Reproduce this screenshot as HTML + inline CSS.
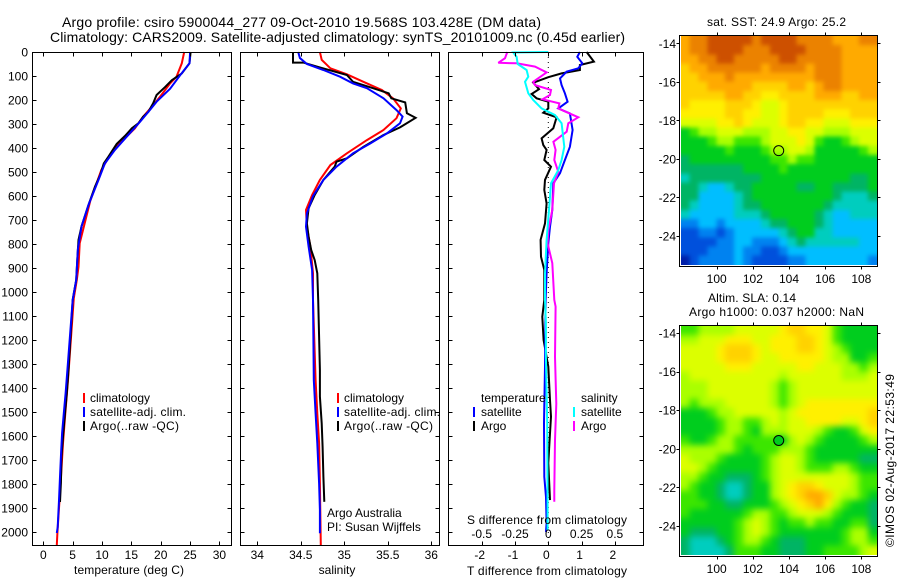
<!DOCTYPE html>
<html lang="en">
<head>
<meta charset="utf-8">
<title>Argo profile</title>
<style>
html,body{margin:0;padding:0;background:#fff;width:900px;height:580px;overflow:hidden}
svg{display:block}
text{font-family:"Liberation Sans",sans-serif;font-size:12px;fill:#000}
.t{font-size:14px}
</style>
</head>
<body>
<svg id="fig" xmlns="http://www.w3.org/2000/svg" width="900" height="580" viewBox="0 0 900 580">
<defs>
<filter id="smooth-sst" filterUnits="userSpaceOnUse" x="640" y="0" width="260" height="300" color-interpolation-filters="sRGB"><feGaussianBlur stdDeviation="2.2"/></filter>
<filter id="smooth-sla" filterUnits="userSpaceOnUse" x="640" y="290" width="260" height="290" color-interpolation-filters="sRGB"><feGaussianBlur stdDeviation="3.2"/></filter>
<clipPath id="clip-sst"><rect x="681" y="36" width="196" height="229"/></clipPath>
<clipPath id="clip-sla"><rect x="681" y="326" width="196" height="229"/></clipPath>
</defs>
<rect x="0" y="0" width="900" height="580" fill="#fff"/>
<text class="t" x="62" y="27" textLength="479" lengthAdjust="spacing">Argo profile: csiro 5900044_277 09-Oct-2010 19.568S 103.428E (DM data)</text>
<text class="t" x="50" y="42" textLength="575" lengthAdjust="spacing">Climatology: CARS2009. Satellite-adjusted climatology: synTS_20101009.nc (0.45d earlier)</text>
<g id="marks"></g>
<rect x="32.5" y="52.5" width="199" height="493" fill="none" stroke="#000"/>
<rect x="240.5" y="52.5" width="199" height="493" fill="none" stroke="#000"/>
<rect x="448.5" y="52.5" width="195" height="493" fill="none" stroke="#000"/>
<rect x="679.5" y="35.5" width="198" height="231" fill="none" stroke="#000"/>
<rect x="679.5" y="325.5" width="198" height="231" fill="none" stroke="#000"/>
<text x="74" y="574" textLength="110" lengthAdjust="spacing">temperature (deg C)</text>
<text x="337" y="574" text-anchor="middle">salinity</text>
<text x="467" y="575" textLength="160" lengthAdjust="spacing">T difference from climatology</text>
<text x="467" y="524" textLength="160" lengthAdjust="spacing">S difference from climatology</text>
<line x1="84" x2="84" y1="393" y2="403" stroke="#f00" stroke-width="2"/>
<line x1="84" x2="84" y1="407" y2="417" stroke="#00f" stroke-width="2"/>
<line x1="84" x2="84" y1="421" y2="431" stroke="#000" stroke-width="2"/>
<text x="90" y="402">climatology</text>
<text x="90" y="416" textLength="96" lengthAdjust="spacing">satellite-adj. clim.</text>
<text x="90" y="430" textLength="89" lengthAdjust="spacing">Argo(..raw -QC)</text>
<line x1="338" x2="338" y1="393" y2="403" stroke="#f00" stroke-width="2"/>
<line x1="338" x2="338" y1="407" y2="417" stroke="#00f" stroke-width="2"/>
<line x1="338" x2="338" y1="421" y2="431" stroke="#000" stroke-width="2"/>
<text x="344" y="402">climatology</text>
<text x="344" y="416" textLength="96" lengthAdjust="spacing">satellite-adj. clim.</text>
<text x="344" y="430" textLength="89" lengthAdjust="spacing">Argo(..raw -QC)</text>
<text x="327" y="517">Argo Australia</text>
<text x="327" y="531">PI: Susan Wijffels</text>
<text x="481" y="402">temperature</text>
<text x="581" y="402">salinity</text>
<line x1="474" x2="474" y1="407" y2="417" stroke="#00f" stroke-width="2"/>
<line x1="474" x2="474" y1="421" y2="431" stroke="#000" stroke-width="2"/>
<text x="481" y="416">satellite</text>
<text x="481" y="430">Argo</text>
<line x1="574" x2="574" y1="407" y2="417" stroke="#0ff" stroke-width="2"/>
<line x1="574" x2="574" y1="421" y2="431" stroke="#f0f" stroke-width="2"/>
<text x="581" y="416">satellite</text>
<text x="581" y="430">Argo</text>
<text x="707" y="26" textLength="139" lengthAdjust="spacing">sat. SST: 24.9  Argo: 25.2</text>
<text x="708" y="302" textLength="88" lengthAdjust="spacing">Altim. SLA: 0.14</text>
<text x="689" y="316" textLength="175" lengthAdjust="spacing">Argo h1000: 0.037 h2000: NaN</text>
<text transform="translate(894,547) rotate(-90)" textLength="173" lengthAdjust="spacing">©IMOS 02-Aug-2017 22:53:49</text>
</svg>
<script>
const depthTicks = [0,100,200,300,400,500,600,700,800,900,1000,1100,1200,1300,1400,1500,1600,1700,1800,1900,2000];
const tempTicks = [0,5,10,15,20,25,30];
const salTicks = [34,34.5,35,35.5,36];
const salTickLabels = ['34','34.5','35','35.5','36'];
const tDiffTicks = [-2,-1,0,1,2];
const sDiffTicks = [-0.5,-0.25,0,0.25,0.5];
const sDiffTickLabels = ['-0.5','-0.25','0','0.25','0.5'];
const lonTicks = [100,102,104,106,108];
const latTicks = [-14,-16,-18,-20,-22,-24];

const argoLon = 103.43;
const argoLat = -19.57;
const slaAtArgoLevel = 6;

const tempClimDepth = [0,47,103,131,186,228,270,318,408,491,620,797,895,950,1026,1367,1506,1630,1797,2004,2054];
const tempClimValue = [24.0,23.6,22.7,21.6,19.9,18.5,17.0,15.6,11.9,9.9,8.0,6.2,6.0,5.7,5.2,4.2,3.75,3.35,2.95,2.4,2.3];
const tempSatDepth = [0,47,97,153,207,241,290,353,408,464,533,637,727,820,950,1033,1325,1422,1506,1588,1660,1770,1868,1980,2004];
const tempSatValue = [25.0,24.9,23.3,21.6,19.3,18.2,16.5,14.2,12.2,10.5,9.4,7.7,6.5,5.9,5.6,5.0,4.1,3.8,3.5,3.2,3.05,2.85,2.67,2.45,2.3];
const tempArgoDepth = [0,47,89,117,147,179,214,249,270,297,318,350,383,436,464,512,561,637,727,783,866,950,1006,1033,1325,1422,1506,1588,1686,1796,1875];
const tempArgoValue = [25.1,24.9,23.6,21.9,20.7,19.3,18.7,17.9,17.0,16.2,15.1,13.9,12.5,11.1,10.3,9.7,8.8,7.7,6.5,6.0,5.8,5.6,5.2,5.0,4.3,4.0,3.7,3.4,3.1,3.0,2.85];

const salClimDepth = [0,33,68,93,124,158,193,235,276,325,367,422,471,533,596,658,728,811,922,1033,1367,1506,1630,1797,2054];
const salClimValue = [34.72,34.74,34.84,35.03,35.22,35.43,35.56,35.65,35.60,35.45,35.26,35.03,34.84,34.72,34.63,34.56,34.57,34.61,34.64,34.64,34.67,34.69,34.71,34.72,34.73];
const salSatDepth = [0,25,50,75,103,131,151,193,242,269,297,339,381,422,478,533,601,672,728,811,908,1033,1367,1506,1630,1797,1908,2005];
const salSatValue = [34.47,34.49,34.57,34.76,34.95,35.10,35.26,35.45,35.60,35.67,35.64,35.49,35.30,35.10,34.91,34.76,34.64,34.57,34.56,34.59,34.63,34.64,34.65,34.67,34.69,34.71,34.72,34.72];
const salArgoDepth = [0,44,44,64,96,124,151,172,193,210,255,274,314,346,395,443,457,478,533,596,651,714,770,825,867,922,1033,1325,1436,1547,1645,1770,1874];
const salArgoValue = [34.41,34.41,34.53,34.72,35.03,35.10,35.33,35.51,35.54,35.70,35.72,35.82,35.64,35.45,35.22,35.03,34.91,34.89,34.76,34.66,34.59,34.57,34.59,34.62,34.66,34.69,34.70,34.72,34.72,34.74,34.75,34.76,34.77];

const dTSatDepth = [0,20,47,68,82,110,138,172,207,235,256,325,395,450,505,547,658,728,797,922,1033,1311,1547,1770,1854,1963,2000];
const dTSatValue = [0.95,0.87,1.02,0.90,0.55,0.35,0.40,0.50,0.58,0.30,0.65,0.73,0.65,0.50,0.35,0.15,0.12,0.05,0,-0.05,-0.08,-0.10,-0.13,-0.12,-0.07,-0.05,-0.07];
const dTArgoDepth = [0,40,54,75,89,105,128,155,175,193,207,235,253,272,318,360,388,408,450,478,533,575,631,714,783,853,908,1033,1103,1200,1311,1450,1519,1617,1713,1867];
const dTArgoValue = [1.15,1.37,0.95,0.95,0.40,0,-0.45,-0.28,-0.50,-0.35,0,0,-0.15,0.25,0.15,-0.20,-0.15,-0.05,-0.12,0.08,-0.10,-0.12,-0.05,-0.10,-0.23,-0.22,-0.12,-0.12,-0.18,-0.14,0,0.05,0.08,0.04,0,0.05];
const dSSatDepth = [0,2,20,50,75,103,124,172,200,235,263,297,395,450,492,547,658,783,922,1033,1130,1270,1547,1880,1992];
const dSSatValue = [0,-0.263,-0.238,-0.23,-0.163,-0.15,-0.175,-0.15,-0.113,-0.05,0.05,0.10,0.12,0.10,0.075,0.02,0.005,-0.013,-0.025,-0.025,-0.018,-0.018,-0.008,-0.005,-0.005];
const dSArgoDepth = [0,26,45,47,61,85,124,138,158,179,197,214,235,272,297,332,374,408,450,499,547,658,742,797,880,1033,1061,1270,1466,1617,1825,1874];
const dSArgoValue = [-0.308,-0.325,-0.375,-0.238,-0.10,-0.013,-0.113,-0.10,0.02,0.013,-0.043,0.083,0.075,0.225,0.15,0.138,0.038,0.055,0.045,0.075,0.043,0.03,0,-0.005,0.03,0.045,0.055,0.05,0.06,0.05,0.045,0.045];

const colorLevels = ['#001ea8','#0050dc','#0082f0','#00beff','#00cdbe','#00b464','#00cd1e','#3ce600','#aaff00','#dcff00','#fff000','#ffd200','#ffaa00','#eb8200','#cd5000'];
const gridLonStart = 98.0;
const gridLonStep = 0.494;
const gridLatStart = -13.62;
const gridLatStep = -0.475;

const sstGrid = [
[12,13,13,14,14,14,14,14,13,14,14,14,14,13,13,13,13,12,12,12,13,13],
[12,13,13,14,14,14,14,13,13,13,14,14,14,14,13,13,13,13,12,12,12,12],
[12,12,13,13,14,14,13,13,13,13,13,14,14,13,13,13,13,13,12,12,12,12],
[11,12,12,13,13,13,13,13,13,12,13,13,13,13,12,13,13,13,12,12,12,12],
[11,11,12,12,12,13,12,12,12,12,12,12,12,12,12,13,13,13,12,12,12,12],
[11,11,11,12,12,12,12,12,11,11,11,11,12,12,11,12,13,13,12,12,12,12],
[11,11,11,11,11,12,12,11,11,10,10,11,11,11,11,12,12,12,11,11,12,12],
[11,10,10,10,10,11,11,11,10,9,9,10,11,11,11,11,11,11,11,11,11,11],
[10,10,10,10,10,11,11,10,10,9,9,10,11,11,11,11,10,10,10,11,11,11],
[9,9,9,9,10,10,11,10,9,9,9,10,11,11,10,10,9,9,9,10,10,10],
[6,7,8,8,9,9,9,8,8,8,9,9,10,10,9,9,8,8,8,9,9,9],
[6,6,6,7,8,8,7,7,7,8,9,9,9,10,9,7,6,6,7,8,9,9],
[6,6,6,6,6,7,6,6,6,7,8,8,9,9,8,6,6,6,6,6,7,8],
[5,6,6,6,6,6,6,6,6,6,7,7,8,7,7,6,6,6,6,6,6,6],
[5,5,5,5,5,5,5,6,6,6,6,7,6,6,6,6,6,6,6,6,6,6],
[4,5,5,5,5,5,5,5,5,6,6,6,6,6,6,6,6,6,6,5,5,6],
[5,5,4,3,3,4,5,5,6,6,6,6,6,5,5,6,6,5,5,5,5,6],
[5,5,3,3,3,3,4,5,6,6,6,6,6,6,6,6,6,5,4,4,4,5],
[5,4,3,3,3,3,4,5,5,6,6,6,6,6,6,6,5,4,4,4,4,4],
[4,3,3,3,3,3,4,4,4,5,6,6,6,6,6,5,4,3,3,4,4,4],
[2,2,3,3,2,3,3,3,3,4,5,5,6,6,6,5,4,3,3,3,3,3],
[1,1,2,2,1,2,3,3,3,3,3,4,5,6,6,4,4,3,3,3,3,3],
[1,1,1,1,2,2,3,3,2,2,2,3,4,5,4,4,4,4,4,4,3,3],
[1,1,1,2,2,2,3,2,2,1,1,2,3,3,3,3,3,3,3,3,3,3],
[0,1,2,2,2,2,3,2,1,1,1,1,2,2,3,3,3,3,3,3,3,2]
];
const slaGrid = [
[7,7,8,8,8,8,9,9,9,9,9,10,11,11,10,10,9,7,6,6,6,6],
[8,8,9,9,9,10,10,10,9,9,10,10,10,11,11,10,9,7,6,6,6,6],
[9,9,9,9,10,11,11,11,10,9,10,10,10,11,11,10,9,8,7,6,6,6],
[9,9,9,9,10,11,11,11,10,9,9,10,10,10,10,10,9,8,8,6,6,7],
[9,9,9,9,9,10,10,10,9,9,9,9,9,10,10,9,9,9,8,8,7,8],
[8,9,9,9,9,9,9,9,9,9,9,8,9,9,9,9,9,9,8,8,8,9],
[8,8,8,9,9,9,9,9,9,9,8,7,8,9,9,9,9,9,9,9,9,9],
[8,8,8,9,9,9,9,9,9,9,8,7,8,9,9,9,9,9,9,9,9,9],
[8,7,8,8,8,9,9,9,9,9,8,7,8,9,10,10,10,10,10,10,10,10],
[6,6,6,7,8,8,9,9,9,9,9,8,9,10,10,10,10,10,10,10,10,11],
[6,6,6,6,7,8,8,7,7,8,9,8,9,9,10,10,10,10,9,9,10,11],
[6,6,6,6,7,8,8,7,6,8,8,8,9,9,9,8,7,6,6,7,9,10],
[7,6,6,7,8,8,7,7,7,7,7,6,8,9,8,7,6,6,6,6,7,8],
[8,8,8,8,8,8,7,6,7,7,7,8,8,8,7,6,6,6,6,6,6,6],
[9,8,8,8,7,6,6,6,6,7,8,9,9,8,7,6,6,6,6,6,5,5],
[9,9,8,7,6,6,6,6,6,7,8,9,9,8,7,7,7,8,8,7,6,6],
[8,8,7,6,6,5,5,5,6,7,8,9,9,9,9,9,9,9,9,8,7,7],
[8,7,6,6,5,4,4,5,6,6,8,9,10,11,11,10,9,9,9,8,7,7],
[7,7,6,6,5,4,4,5,6,6,8,9,10,11,12,12,11,9,8,8,7,6],
[7,7,7,6,6,5,5,6,6,6,7,8,9,10,11,12,10,8,7,6,6,5],
[7,6,6,6,6,6,6,7,8,8,7,7,8,9,9,9,8,7,6,6,6,5],
[6,6,6,6,6,6,7,8,9,8,7,6,7,7,8,7,7,6,6,7,7,5],
[6,5,5,5,6,6,7,8,9,8,7,6,6,6,6,6,6,6,7,8,8,6],
[5,4,4,4,5,6,7,8,8,7,6,5,5,5,6,6,6,6,7,8,8,7],
[5,4,4,4,4,5,7,7,7,6,6,5,5,5,6,6,7,7,7,7,8,9]
];

const NS = 'http://www.w3.org/2000/svg';
const marks = document.getElementById('marks');
const yDepth = d => 52 + d * 0.24;
const xTemp = v => 43.3 + v * 5.87;
const xSal = v => 257.3 + (v - 34) * 87;
const xDT = v => 548.3 + v * 33.3;
const xDS = v => 548.3 + v * 133.2;
const xLon = v => 716.7 + (v - 100) * 18.08;
const ySstLat = v => 43.3 + (-14 - v) * 19.27;
const ySlaLat = v => 333 + (-14 - v) * 19.3;

function make(tag, attrs) {
  const el = document.createElementNS(NS, tag);
  for (const k in attrs) el.setAttribute(k, attrs[k]);
  return el;
}
function drawHeatmap(grid, yLat, frameName, filterId, clipId) {
  const clipGroup = make('g', {'clip-path': 'url(#' + clipId + ')'});
  
  
  const group = make('g', {filter: 'url(#' + filterId + ')'});
  
  
  const bleed = 12;
  const lastRow = grid.length - 1;
  grid.forEach((row, r) => {
    const lastCol = row.length - 1;
    row.forEach((level, c) => {
      const lon = gridLonStart + c * gridLonStep;
      const lat = gridLatStart + r * gridLatStep;
      let x0 = xLon(lon), x1 = xLon(lon + gridLonStep);
      let y0 = yLat(lat), y1 = yLat(lat + gridLatStep);
      if (c === 0) x0 -= bleed;
      if (c === lastCol) x1 += bleed;
      if (r === 0) y0 -= bleed;
      if (r === lastRow) y1 += bleed;
      const cell = make('rect', {x: x0, y: y0, width: x1 - x0 + 0.6, height: y1 - y0 + 0.6, fill: colorLevels[Math.round(level)], 'shape-rendering': 'crispEdges'});
      
      
      group.appendChild(cell);
    });
  });
  clipGroup.appendChild(group);
  marks.appendChild(clipGroup);
}
function drawLine(depths, values, xScale, color, seriesName) {
  const pts = depths.map((d, i) => xScale(values[i]).toFixed(1) + ',' + yDepth(d).toFixed(1)).join(' ');
  const line = make('polyline', {points: pts, fill: 'none', stroke: color, 'stroke-width': 2, 'stroke-linejoin': 'miter', 'stroke-miterlimit': 3});
  
  
  marks.appendChild(line);
}
function drawTick(x1, y1, x2, y2) {
  const tick = make('line', {x1: x1, y1: y1, x2: x2, y2: y2, stroke: '#000', 'stroke-width': 1, 'shape-rendering': 'crispEdges'});
  
  
  marks.appendChild(tick);
}
function drawLabel(x, y, txt, anchor) {
  const label = make('text', {x: x, y: y, 'text-anchor': anchor});
  
  
  label.textContent = txt;
  marks.appendChild(label);
}

drawHeatmap(sstGrid, ySstLat, 'sst-heatmap', 'smooth-sst', 'clip-sst');
drawHeatmap(slaGrid, ySlaLat, 'sla-heatmap', 'smooth-sla', 'clip-sla');

const sstMarker = make('circle', {cx: xLon(argoLon), cy: ySstLat(argoLat), r: 5, fill: 'none', stroke: '#000', 'stroke-width': 1});


marks.appendChild(sstMarker);
const slaMarker = make('circle', {cx: xLon(argoLon), cy: ySlaLat(argoLat), r: 5, fill: colorLevels[slaAtArgoLevel], stroke: '#000', 'stroke-width': 1});


marks.appendChild(slaMarker);

const zeroLine = make('line', {x1: xDT(0), x2: xDT(0), y1: yDepth(0), y2: 545, stroke: '#000', 'stroke-width': 1, 'stroke-dasharray': '1 4'});


marks.appendChild(zeroLine);

drawLine(tempClimDepth, tempClimValue, xTemp, '#f00', 'temperature-climatology-line');
drawLine(tempArgoDepth, tempArgoValue, xTemp, '#000', 'temperature-argo-line');
drawLine(tempSatDepth, tempSatValue, xTemp, '#00f', 'temperature-satellite-line');
drawLine(salClimDepth, salClimValue, xSal, '#f00', 'salinity-climatology-line');
drawLine(salArgoDepth, salArgoValue, xSal, '#000', 'salinity-argo-line');
drawLine(salSatDepth, salSatValue, xSal, '#00f', 'salinity-satellite-line');
drawLine(dTArgoDepth, dTArgoValue, xDT, '#000', 't-difference-argo-line');
drawLine(dTSatDepth, dTSatValue, xDT, '#00f', 't-difference-satellite-line');
drawLine(dSArgoDepth, dSArgoValue, xDS, '#f0f', 's-difference-argo-line');
drawLine(dSSatDepth, dSSatValue, xDS, '#0ff', 's-difference-satellite-line');

const panelEdges = [[32.5,231.5],[240.5,439.5],[448.5,643.5]];
panelEdges.forEach(edge => {
  depthTicks.forEach(d => {
    const y = Math.round(yDepth(d)) + 0.5;
    drawTick(edge[0], y, edge[0] + 4, y);
    drawTick(edge[1], y, edge[1] - 4, y);
  });
});
depthTicks.forEach(d => drawLabel(28, yDepth(d) + 4.5, String(d), 'end'));
tempTicks.forEach(v => {
  const x = Math.round(xTemp(v)) + 0.5;
  drawTick(x, 52.5, x, 56.5);
  drawTick(x, 545.5, x, 541.5);
  drawLabel(xTemp(v), 559, String(v), 'middle');
});
salTicks.forEach((v, i) => {
  const x = Math.round(xSal(v)) + 0.5;
  drawTick(x, 52.5, x, 56.5);
  drawTick(x, 545.5, x, 541.5);
  drawLabel(xSal(v), 559, salTickLabels[i], 'middle');
});
tDiffTicks.forEach(v => {
  const x = Math.round(xDT(v)) + 0.5;
  drawTick(x, 52.5, x, 56.5);
  drawTick(x, 545.5, x, 541.5);
  drawLabel(xDT(v) - 2, 559, String(v), 'middle');
});
sDiffTicks.forEach((v, i) => drawLabel(xDS(v), 538, sDiffTickLabels[i], 'middle'));

lonTicks.forEach(v => {
  const x = Math.round(xLon(v)) + 0.5;
  drawTick(x, 35.5, x, 32.5);
  drawTick(x, 266.5, x, 269.5);
  drawTick(x, 325.5, x, 322.5);
  drawTick(x, 556.5, x, 559.5);
  drawLabel(xLon(v), 283, String(v), 'middle');
  drawLabel(xLon(v), 573, String(v), 'middle');
});
latTicks.forEach(v => {
  const y1 = Math.round(ySstLat(v)) + 0.5;
  const y2 = Math.round(ySlaLat(v)) + 0.5;
  drawTick(679.5, y1, 676.5, y1);
  drawTick(877.5, y1, 880.5, y1);
  drawTick(679.5, y2, 676.5, y2);
  drawTick(877.5, y2, 880.5, y2);
  drawLabel(676, ySstLat(v) + 4.5, String(v), 'end');
  drawLabel(676, ySlaLat(v) + 4.5, String(v), 'end');
});
</script>
</body>
</html>
